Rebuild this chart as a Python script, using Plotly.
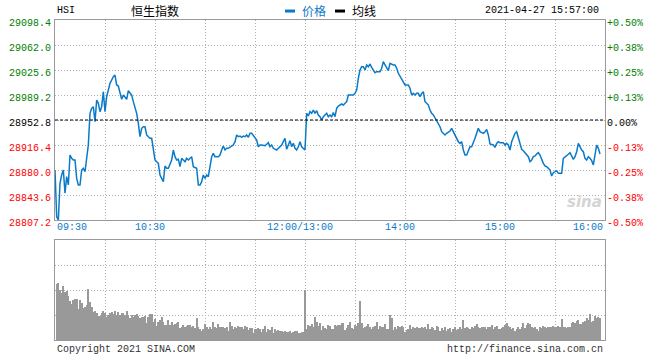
import plotly.graph_objects as go

# ---------------- data ----------------
prev_close = 28952.8

# trading minutes since 09:30 (lunch break removed: 150 = 12:00/13:00)
price_min = [0, 1, 2, 3, 4, 5, 6, 7, 8, 9, 10, 11, 12, 13, 14, 15, 16, 17, 18, 19, 20, 21, 22, 23, 24, 25, 26, 27, 28, 29,
             30, 31, 32, 33, 34, 35, 36, 37, 38, 39, 40, 41, 42, 43, 44, 45, 46, 47, 48, 49, 50, 51, 52, 53, 54, 55, 56, 57, 58, 59,
             60, 61, 62, 63, 64, 65, 66, 67, 68, 69, 70, 71, 72, 73, 74, 75, 76, 77, 78, 79, 80, 81, 82, 83, 85, 86, 87, 88, 89,
             90, 91, 92, 93, 94, 95, 96, 98, 99, 100, 101, 102, 103, 104, 105, 106, 107, 108, 109, 110, 111, 112, 113, 114, 115,
             116, 117, 118, 119, 120, 121, 122, 123, 124, 126, 127, 128, 129, 130, 131, 132, 133, 134, 135, 136, 137, 138, 139,
             140, 141, 142, 143, 144, 145, 146, 147, 148, 149, 150,
             151, 152, 153, 154, 155, 156, 157, 158, 159, 160, 161, 162, 163, 164, 165, 166, 167, 168, 169, 170, 171, 172, 173,
             174, 175, 176, 178, 179, 180, 181, 182, 183, 184, 185, 186, 187, 188, 189, 190, 191, 192, 193, 195, 196, 197, 198,
             199, 200, 201, 202, 203, 204, 205, 206, 207, 208, 209, 210, 211, 212, 213, 214, 215, 216, 217, 218, 219, 220, 221,
             222, 223, 224, 225, 226, 227, 228, 229, 230, 231, 232, 233, 234, 235, 237, 238, 239, 240, 241, 242, 243, 244, 245,
             246, 247, 248, 249, 250, 251, 252, 253, 254, 255, 256, 257, 258, 259, 260, 261, 263, 264, 265, 266, 267, 269, 270,
             271, 272, 273, 274, 275, 276, 277, 278, 279, 280, 281, 282, 283, 284, 285, 286, 287, 288, 289, 290, 291, 292, 293,
             294, 295, 296, 297, 298, 299, 300, 301, 302, 304, 305, 307, 308, 309, 310, 311, 312, 313, 314, 315, 316, 317, 318,
             319, 320, 321, 322, 323, 324, 325, 326, 327]

price_val = [28880.0, 28812.0, 28807.2, 28860.6, 28872.7, 28880.0, 28846.1, 28870.3, 28858.2, 28901.8, 28897.0, 28894.6,
             28894.6, 28867.9, 28858.2, 28858.2, 28880.0, 28882.5, 28877.5, 28901.8, 28916.4, 28962.5, 28969.8, 28972.2,
             28950.3, 28981.9, 28977.1, 28964.9, 28972.2, 28994.0, 28964.9, 28986.7, 28996.5, 29006.2, 29011.0, 29015.9,
             29018.3, 29003.8, 29002.3, 28994.0, 28982.9, 28989.2, 28986.7, 28982.9, 28995.5, 28991.6, 28989.2, 28979.5,
             28972.2, 28962.5, 28948.0, 28928.5, 28940.7, 28943.0, 28943.0, 28931.0, 28928.5, 28926.1, 28926.1, 28909.1,
             28894.6, 28892.1, 28889.7, 28872.7, 28867.9, 28863.0, 28885.8, 28882.5, 28882.5, 28889.7, 28894.6, 28909.1,
             28899.4, 28894.6, 28895.6, 28884.8, 28897.0, 28894.6, 28892.1, 28897.0, 28894.6, 28897.0, 28899.4, 28884.8,
             28882.5, 28858.2, 28858.2, 28863.0, 28872.7, 28867.9, 28872.7, 28870.3, 28884.8, 28899.4, 28904.3, 28899.4,
             28899.4, 28901.8, 28909.1, 28914.9, 28909.1, 28911.6, 28911.6, 28913.0, 28914.9, 28916.4, 28921.2, 28931.0,
             28928.5, 28929.5, 28927.6, 28929.5, 28928.5, 28931.0, 28927.6, 28933.4, 28933.4, 28929.5, 28926.1, 28923.7,
             28913.9, 28916.4, 28916.4, 28915.4, 28917.4, 28919.8, 28913.9, 28916.4, 28911.6, 28910.1, 28909.1, 28911.6,
             28913.9, 28916.4, 28921.2, 28926.1, 28910.1, 28916.4, 28922.7, 28913.9, 28918.8, 28911.6, 28909.1, 28913.9,
             28921.2, 28913.9, 28911.6, 28909.1,
             28962.5, 28958.8, 28964.9, 28962.5, 28967.4, 28962.5, 28966.4, 28960.1, 28957.6, 28952.8, 28957.6, 28960.1,
             28962.5, 28957.6, 28960.1, 28957.6, 28963.5, 28957.6, 28969.8, 28973.2, 28974.6, 28976.1, 28974.6, 28977.1,
             28979.5, 28989.2, 28989.2, 28989.2, 28991.6, 28996.5, 29013.5, 29025.6, 29030.4, 29030.4, 29025.6, 29032.9,
             29030.4, 29034.3, 29029.5, 29025.6, 29021.7, 29023.1, 29023.1, 29028.1, 29037.7, 29032.9, 29028.1, 29024.6,
             29035.3, 29034.0, 29032.9, 29032.9, 29028.1, 29020.8, 29016.9, 29013.5, 29008.6, 29003.8, 29003.8, 29003.8,
             28999.0, 28989.2, 28991.6, 28989.2, 28991.6, 28991.6, 28986.7, 28991.6, 28994.0, 28979.5, 28977.1, 28974.6,
             28967.4, 28962.5, 28960.1, 28955.3, 28951.8, 28948.0, 28943.0, 28935.8, 28933.4, 28931.0, 28933.4, 28936.8,
             28940.7, 28935.8, 28931.0, 28926.1, 28921.2, 28918.8, 28921.2, 28909.1, 28901.8, 28901.8, 28909.1, 28913.9,
             28913.9, 28918.8, 28926.1, 28933.4, 28940.7, 28935.8, 28934.4, 28933.4, 28935.8, 28939.2, 28931.0, 28917.9,
             28916.4, 28913.0, 28918.8, 28921.2, 28919.8, 28919.8, 28916.4, 28918.8, 28916.4, 28909.1, 28921.2, 28926.1,
             28933.4, 28935.8, 28926.1, 28916.4, 28910.1, 28908.1, 28905.2, 28903.3, 28899.4, 28892.1, 28894.6, 28899.4,
             28900.4, 28903.3, 28905.2, 28901.8, 28894.6, 28889.7, 28885.8, 28884.8, 28882.5, 28880.0, 28871.3, 28876.1,
             28877.5, 28879.0, 28875.2, 28875.2, 28897.0, 28900.4, 28902.9, 28905.2, 28900.4, 28895.6, 28899.4, 28906.6,
             28918.8, 28913.9, 28909.1, 28906.6, 28897.0, 28894.6, 28899.4, 28897.0, 28893.6, 28887.3, 28905.0, 28916.4,
             28911.6, 28903.3]

# volume (relative units, panel top = 100), one bar per trading minute 1..327
vol_min = list(range(1, 328))
vol_val = [55.7, 56.7, 50.0, 46.7, 54.0, 48.3, 49.3, 44.0, 39.0, 36.0,
           40.0, 41.0, 41.0, 31.0, 40.0, 37.3, 32.3, 33.3, 35.0, 50.7,
           38.3, 33.3, 28.3, 29.3, 26.7, 24.0, 24.0, 26.7, 29.3, 27.3,
           23.3, 25.0, 26.7, 28.3, 26.0, 29.3, 25.0, 28.3, 25.0, 26.7,
           27.3, 25.0, 29.0, 25.0, 21.7, 25.0, 22.7, 25.0, 26.0, 24.0,
           21.7, 23.3, 22.7, 24.0, 16.7, 23.3, 26.0, 26.0, 18.3, 20.7,
           14.0, 18.3, 20.0, 22.7, 18.3, 15.0, 15.0, 20.0, 15.0, 18.3,
           15.0, 16.0, 17.3, 18.3, 11.7, 12.7, 15.0, 13.3, 14.0, 15.0,
           15.0, 12.7, 14.0, 11.7, 22.3, 12.7, 10.7, 9.3, 10.7, 15.7,
           12.7, 10.7, 12.7, 10.7, 18.3, 12.7, 11.7, 16.0, 12.7, 13.3,
           12.7, 11.7, 12.7, 9.3, 18.3, 14.0, 10.7, 12.7, 11.7, 14.0,
           12.7, 12.7, 10.7, 14.0, 12.7, 10.0, 11.7, 11.7, 7.3, 10.7,
           10.7, 11.7, 10.7, 8.3, 10.7, 14.0, 8.3, 10.7, 10.0, 12.7,
           7.3, 10.7, 9.3, 10.0, 9.3, 9.3, 8.3, 9.3, 8.3, 8.3,
           9.3, 7.3, 8.3, 9.3, 9.3, 7.3, 7.3, 8.3, 8.3,
           50.0,
           10.7, 15.0, 14.0, 16.0, 12.7, 22.7, 18.3, 14.0, 16.7, 10.0, 14.0, 11.7, 10.7, 15.0,
           14.0, 10.7, 10.7, 15.0, 14.0, 15.0, 15.0, 16.7, 17.3, 10.0,
           11.7, 15.0, 18.3, 11.7, 10.7, 15.0, 14.0, 17.3, 39.0, 17.3,
           11.7, 12.7, 14.0, 16.0, 12.7, 10.7, 12.7, 14.0, 18.3, 10.7,
           14.0, 13.3, 12.7, 16.0, 10.7, 10.7, 25.0, 21.7, 10.0, 12.7,
           10.7, 14.0, 12.7, 14.0, 12.7, 8.3, 10.0, 10.7, 15.0, 10.7,
           12.7, 11.7, 12.7, 11.7, 11.7, 12.7, 11.7, 12.7, 10.7, 16.0,
           10.7, 12.7, 11.7, 10.0, 14.0, 12.7, 9.3, 11.7, 10.0, 12.7,
           9.3, 10.7, 11.7, 8.3, 10.7, 12.7, 10.0, 10.7, 12.7, 10.7,
           20.0, 11.7, 12.7, 11.7, 10.7, 12.7, 11.7, 14.0, 16.0, 12.7,
           11.7, 13.3, 12.7, 12.7, 10.7, 12.7, 12.7, 15.0, 10.7, 12.7,
           14.0, 10.7, 10.7, 11.7, 12.7, 15.0, 16.7, 14.0, 12.7, 10.7,
           11.7, 9.3, 10.7, 12.7, 10.7, 12.7, 17.3, 11.7, 15.0, 16.7,
           16.0, 12.7, 11.7, 12.7, 10.7, 9.3, 12.7, 11.7, 14.0, 13.3,
           11.7, 12.7, 12.7, 12.7, 14.0, 12.7, 12.7, 14.0, 12.7, 20.7,
           12.7, 12.7, 11.7, 12.7, 12.7, 17.3, 18.3, 17.3, 19.3, 20.0,
           16.0, 16.0, 18.3, 19.3, 21.7, 20.0, 26.0, 18.3, 19.3, 24.0,
           21.7, 22.7, 21.7]

price_ticks = [28807.2, 28843.6, 28880.0, 28916.4, 28952.8, 28989.2, 29025.6, 29062.0, 29098.4]
pct_labels = ["-0.50%", "-0.38%", "-0.25%", "-0.13%", "0.00%", "+0.13%", "+0.25%", "+0.38%", "+0.50%"]

time_tick_min = [0, 60, 150, 210, 270, 330]
time_tick_txt = ["09:30", "10:30", "12:00/13:00", "14:00", "15:00", "16:00"]

title_code = "HSI"
title_name = "恒生指数"
legend_names = ["价格", "均线"]
timestamp = "2021-04-27 15:57:00"
footer_left = "Copyright 2021 SINA.COM"
footer_right = "http://finance.sina.com.cn"

# ---------------- styles ----------------
BLUE = "#0a7ac8"
GREEN = "#008000"
RED = "#ff0000"
GRID = "#b0b0b0"
BORDER = "#999999"
MONO = "Liberation Mono, DejaVu Sans Mono, monospace"
CJK = "Noto Sans CJK SC, sans-serif"


def col_for(v):
    if v > prev_close + 1e-6:
        return GREEN
    if v < prev_close - 1e-6:
        return RED
    return "#000000"


left_text = [f"<span style='color:{col_for(v)}'>{v:.1f}</span>" for v in price_ticks]
right_text = [f"<span style='color:{col_for(v)}'>{t}</span>" for v, t in zip(price_ticks, pct_labels)]

fig = go.Figure()
fig.add_trace(go.Scatter(x=price_min, y=price_val, mode="lines",
                         line=dict(color=BLUE, width=1.5), xaxis="x", yaxis="y",
                         hoverinfo="skip", showlegend=False))
fig.add_trace(go.Scatter(x=[0, 330], y=[prev_close, prev_close], mode="lines",
                         line=dict(color="#000000", width=1, dash="3px,2px"),
                         xaxis="x", yaxis="y3", hoverinfo="skip", showlegend=False))
fig.add_trace(go.Bar(x=vol_min, y=vol_val, width=0.6, xaxis="x2", yaxis="y2",
                     marker=dict(color="#999999", line=dict(width=0)),
                     hoverinfo="skip", showlegend=False))

xcommon = dict(range=[0, 330], tick0=0, dtick=30, showgrid=True, gridcolor=GRID, griddash="1px,2px",
               gridwidth=1, showticklabels=False, ticks="", zeroline=False, automargin=False,
               showline=True, mirror=True, linecolor=BORDER, linewidth=1)

fig.update_layout(
    width=660, height=360,
    margin=dict(l=55, r=55, t=20, b=20, autoexpand=False),
    paper_bgcolor="white", plot_bgcolor="white",
    bargap=0,
    xaxis=dict(domain=[0, 1], anchor="y", **xcommon),
    xaxis2=dict(domain=[0, 1], anchor="y2", **xcommon),
    yaxis=dict(domain=[0.375, 1], anchor="x", range=[price_ticks[0], price_ticks[-1]],
               tickmode="array", tickvals=price_ticks, ticktext=left_text, automargin=False,
               tickfont=dict(family=MONO, size=10), ticks="", ticklabelstandoff=1, ticklabelshift=2,
               showgrid=True, gridcolor=GRID, griddash="1px,2px", gridwidth=1, zeroline=False,
               showline=True, mirror=True, linecolor=BORDER, linewidth=1),
    yaxis3=dict(overlaying="y", side="right", anchor="x", range=[price_ticks[0], price_ticks[-1]],
                tickmode="array", tickvals=price_ticks, ticktext=right_text, automargin=False,
                tickfont=dict(family=MONO, size=10), ticks="", ticklabelstandoff=1, ticklabelshift=2,
                showgrid=False, zeroline=False, showline=False),
    yaxis2=dict(domain=[0, 0.3125], anchor="x2", range=[0, 100], tick0=0, dtick=25, automargin=False,
                showticklabels=False, ticks="", showgrid=True, gridcolor=GRID, griddash="1px,2px",
                gridwidth=1, zeroline=False, showline=True, mirror=True, linecolor=BORDER, linewidth=1),
    showlegend=False,
    hovermode=False,
)

ann = []
# time labels under the price panel
for m, t in zip(time_tick_min, time_tick_txt):
    if m == time_tick_min[0]:
        xa, xs = "left", 0
    elif m == time_tick_min[-1]:
        xa, xs = "right", 0
    else:
        xa, xs = "center", -5
    ann.append(dict(x=m, xref="x", y=0.353, yref="paper", text=t, showarrow=False,
                    xanchor=xa, yanchor="middle", xshift=xs,
                    font=dict(family=MONO, size=10, color=BLUE)))

# header
hy = 1.031
ann.append(dict(x=0, xref="paper", y=hy, yref="paper", text=title_code, showarrow=False,
                xanchor="left", yanchor="middle", font=dict(family=MONO, size=10, color="#000")))
ann.append(dict(x=0.1818, xref="paper", y=hy, yref="paper", text=title_name, showarrow=False,
                xanchor="center", yanchor="middle", font=dict(family=CJK, size=12, color="#000")))
ann.append(dict(x=0.4455, xref="paper", y=hy, yref="paper", text=legend_names[0], showarrow=False,
                xanchor="left", yanchor="middle", font=dict(family=CJK, size=12, color=BLUE)))
ann.append(dict(x=0.5364, xref="paper", y=hy, yref="paper", text=legend_names[1], showarrow=False,
                xanchor="left", yanchor="middle", font=dict(family=CJK, size=12, color="#000")))
ann.append(dict(x=0.9927, xref="paper", y=hy, yref="paper", text=timestamp, showarrow=False,
                xanchor="right", yanchor="middle", font=dict(family=MONO, size=10, color="#000")))
# footer
ann.append(dict(x=0, xref="paper", y=-0.031, yref="paper", text=footer_left, showarrow=False,
                xanchor="left", yanchor="middle", font=dict(family=MONO, size=10, color="#333")))
ann.append(dict(x=1, xref="paper", y=-0.031, yref="paper", text=footer_right, showarrow=False,
                xanchor="right", yanchor="middle", font=dict(family=MONO, size=10, color="#333")))
# watermark
ann.append(dict(x=0.962, xref="paper", y=0.43, yref="paper", text="<b><i>sina</i></b>", showarrow=False,
                xanchor="center", yanchor="middle", font=dict(family="DejaVu Sans", size=15, color="#d4d4d4")))
fig.update_layout(annotations=ann)

# legend swatches
fig.add_shape(type="line", xref="paper", yref="paper", x0=0.4182, x1=0.4364, y0=1.028, y1=1.028,
              line=dict(color=BLUE, width=3))
fig.add_shape(type="line", xref="paper", yref="paper", x0=0.5091, x1=0.5273, y0=1.028, y1=1.028,
              line=dict(color="#000", width=3))

fig.write_html("out.html", config={"displayModeBar": False},
               post_script="document.body.style.margin='0';document.body.style.padding='0';")
